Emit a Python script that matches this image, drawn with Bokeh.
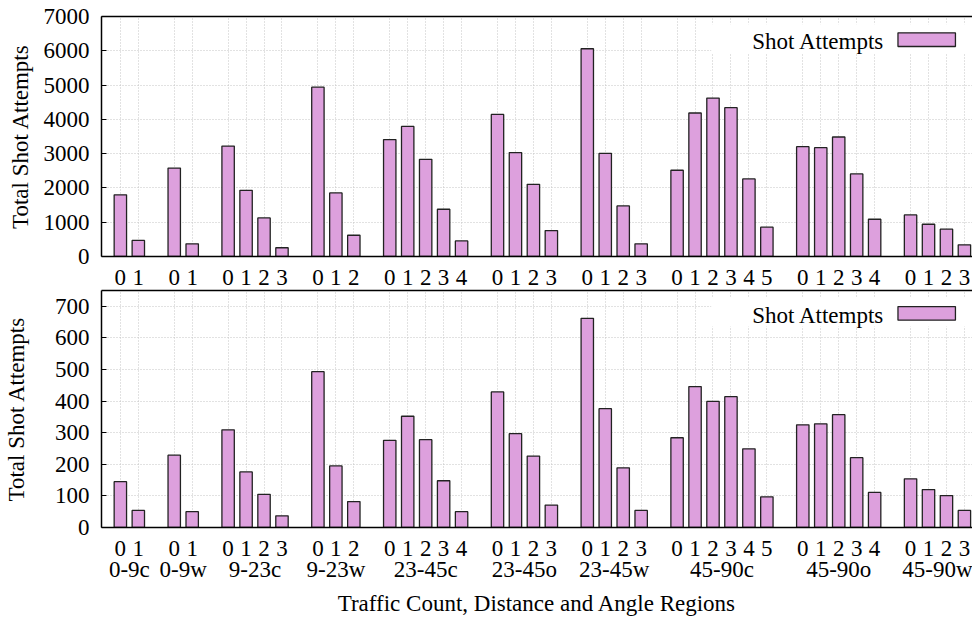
from bokeh.plotting import figure
from bokeh.layouts import column
from bokeh.models import FixedTicker, LinearAxis, Range1d
from bokeh.core.properties import value
from bokeh.embed import file_html
from bokeh.resources import INLINE

# ---- data ----
groups = ["0-9c", "0-9w", "9-23c", "9-23w", "23-45c", "23-45o", "23-45w",
          "45-90c", "45-90o", "45-90w"]
group_sizes = [2, 2, 4, 3, 5, 4, 4, 6, 5, 4]
top_values = [1800, 470,
              2580, 370,
              3220, 1930, 1125, 255,
              4940, 1855, 620,
              3410, 3795, 2835, 1378, 455,
              4145, 3030, 2105, 757,
              6060, 3010, 1475, 370,
              2515, 4185, 4620, 4340, 2263, 855,
              3204, 3175, 3486, 2408, 1087,
              1213, 940, 796, 340]
bottom_values = [145, 54,
                 229, 50,
                 309, 176, 105, 37,
                 493, 195, 82,
                 276, 352, 278, 148, 50,
                 429, 297, 226, 71,
                 662, 376, 189, 54,
                 284, 446, 399, 414, 249, 97,
                 325, 328, 357, 221, 111,
                 154, 120, 101, 54]
series_name = "Shot Attempts"
y_title = "Total Shot Attempts"
x_title = "Traffic Count, Distance and Angle Regions"

# ---- positions (one empty slot between groups) ----
pos, sub, centers = [], [], []
slot = 0
for n in group_sizes:
    start = slot
    for k in range(n):
        pos.append(slot)
        sub.append(str(k))
        slot += 1
    centers.append((start + slot - 1) / 2)
    slot += 1

FONT = "Liberation Serif"
FS = "23px"
BAR_FILL = "#DDA0DD"


def panel(values, ymax, ystep, height, mtop, mbottom, ylab_standoff, with_groups):
    p = figure(width=972, height=height, output_backend="svg", toolbar_location=None,
               x_range=Range1d(-1.05, 47.45), y_range=Range1d(0, ymax),
               min_border_left=99, min_border_right=0,
               min_border_top=mtop, min_border_bottom=mbottom)
    p.background_fill_color = "white"
    p.border_fill_color = "white"
    p.outline_line_color = None

    xa = p.below[0]
    ya = p.left[0]

    # grid
    p.xgrid.ticker = FixedTicker(ticks=pos)
    p.ygrid.ticker = FixedTicker(ticks=list(range(0, ymax + 1, ystep)))
    for g in (p.xgrid, p.ygrid):
        g.grid_line_color = "#c4c4c4"
        g.grid_line_dash = "1 2"
        g.grid_line_width = 1

    # y axis
    ya.ticker = FixedTicker(ticks=list(range(0, ymax + 1, ystep)))
    ya.axis_label = y_title
    ya.axis_label_text_font = FONT
    ya.axis_label_text_font_size = FS
    ya.axis_label_text_font_style = "normal"
    ya.axis_label_text_color = "black"
    ya.axis_label_standoff = ylab_standoff
    ya.major_label_text_font = FONT
    ya.major_label_text_font_size = FS
    ya.major_label_text_color = "black"
    ya.major_label_standoff = 12
    ya.major_tick_in = 5
    ya.major_tick_out = 0
    ya.minor_tick_line_color = None
    ya.axis_line_width = 1.5
    ya.axis_line_color = "black"
    ya.major_tick_line_color = "black"

    # x axis (traffic counts)
    xa.ticker = FixedTicker(ticks=pos)
    xa.major_label_overrides = {x: s for x, s in zip(pos, sub)}
    xa.major_label_text_font = FONT
    xa.major_label_text_font_size = FS
    xa.major_label_text_color = "black"
    xa.major_label_standoff = 7
    xa.major_tick_line_color = None
    xa.minor_tick_line_color = None
    xa.axis_line_width = 1.5
    xa.axis_line_color = "black"

    if with_groups:
        ga = LinearAxis(ticker=FixedTicker(ticks=centers),
                        major_label_overrides={c: g for c, g in zip(centers, groups)})
        ga.major_label_text_font = FONT
        ga.major_label_text_font_size = FS
        ga.major_label_text_color = "black"
        ga.major_label_standoff = -8
        ga.major_tick_line_color = None
        ga.minor_tick_line_color = None
        ga.axis_line_color = None
        ga.axis_label = x_title
        ga.axis_label_text_font = FONT
        ga.axis_label_text_font_size = FS
        ga.axis_label_text_font_style = "normal"
        ga.axis_label_text_color = "black"
        ga.axis_label_standoff = 6
        p.add_layout(ga, "below")

    # top border as a bare axis line (no ticks, no labels)
    top_axis = LinearAxis(ticker=FixedTicker(ticks=[]), axis_line_width=1.5,
                          axis_line_color="black", major_tick_line_color=None,
                          minor_tick_line_color=None, major_label_standoff=0,
                          major_tick_out=0, major_tick_in=0)
    p.add_layout(top_axis, "above")

    p.vbar(x=pos, top=values, width=0.69, fill_color=BAR_FILL,
           line_color="#222222", line_width=1.3)

    # key: text on the left, swatch on the right, on a white box
    p.quad(left=[32.9], right=[47.6], bottom=[0.848 * ymax], top=[0.968 * ymax],
           fill_color="white", line_color=None)
    p.text(x=[42.55], y=[0.895 * ymax], text=[series_name],
           text_font=value(FONT), text_font_size=FS, text_color="black",
           text_align="right", text_baseline="middle")
    p.quad(left=[43.3], right=[46.5], bottom=[0.875 * ymax], top=[0.932 * ymax],
           fill_color=BAR_FILL, line_color="#222222", line_width=1.3)
    return p


p_top = panel(top_values, 7000, 1000, 289, 16, 33, 8, False)
p_bot = panel(bottom_values, 750, 100, 329, 1, 91, 23, True)

layout = column(p_top, p_bot, spacing=0)
open("out.html", "w").write(file_html(layout, INLINE))
